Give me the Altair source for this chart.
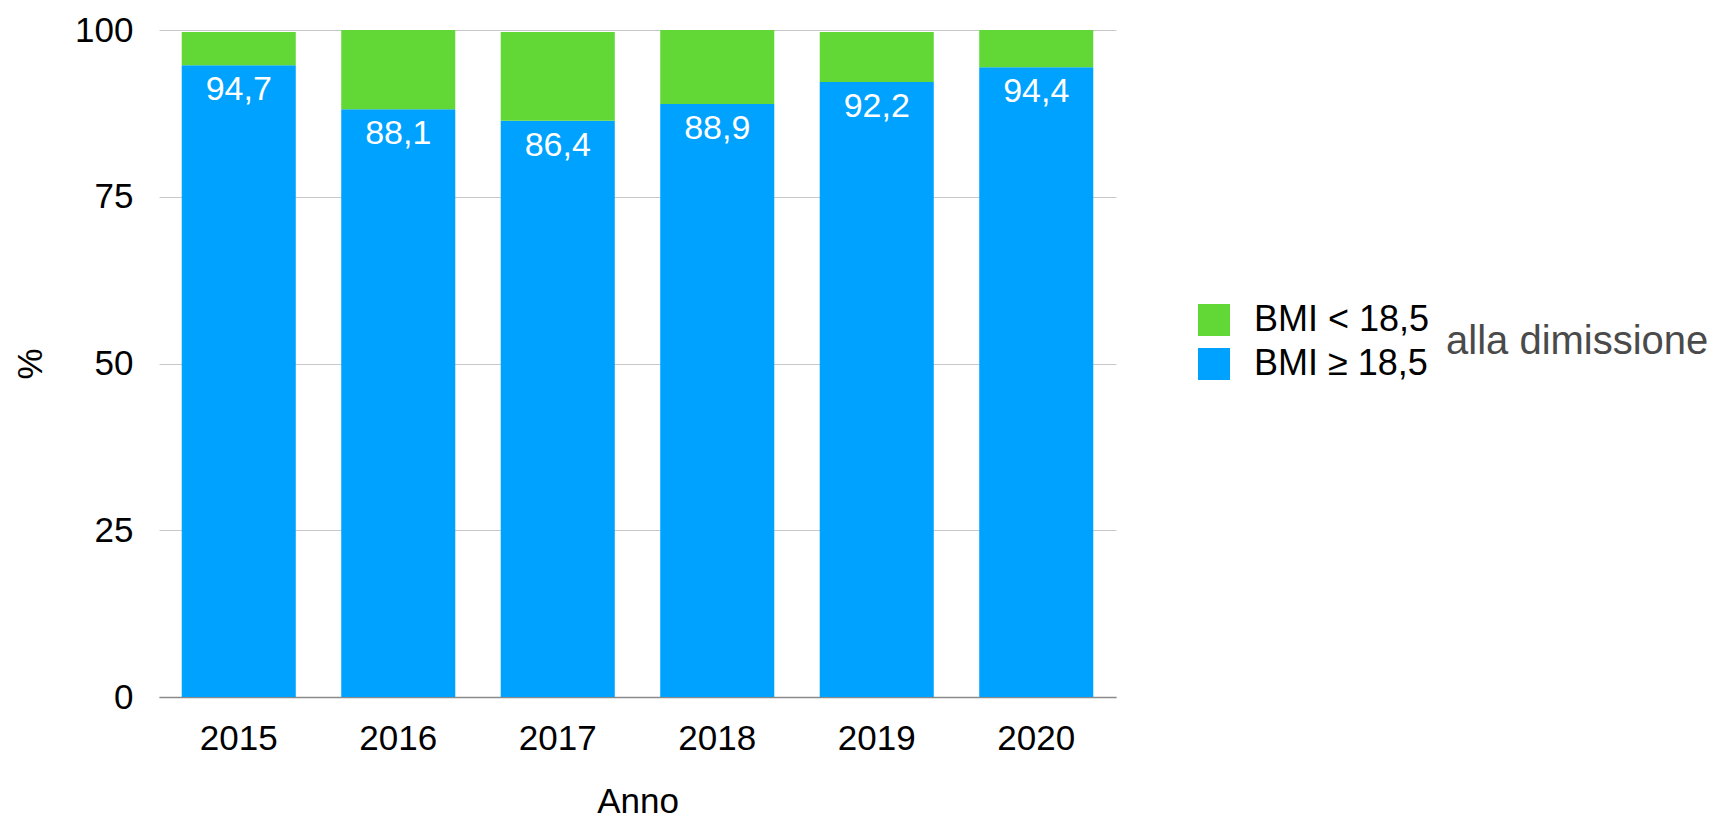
import altair as alt
import pandas as pd

anni = ["2015", "2016", "2017", "2018", "2019", "2020"]
bmi_ge = [94.7, 88.1, 86.4, 88.9, 92.2, 94.4]
bmi_lt = [5.0, 11.9, 13.3, 11.1, 7.5, 5.6]
categorie = ["BMI < 18,5", "BMI ≥ 18,5"]
colori = ["#61D836", "#00A2FF"]
y_ticks = [0, 25, 50, 75, 100]

rows = []
for a, g, l in zip(anni, bmi_ge, bmi_lt):
    rows.append({"Anno": a, "Categoria": categorie[1], "Valore": g, "ord": 0})
    rows.append({"Anno": a, "Categoria": categorie[0], "Valore": l, "ord": 1})
df = pd.DataFrame(rows)

FONT = "Liberation Sans"

base = alt.Chart(df)

x_enc = alt.X(
    "Anno:N",
    sort=anni,
    scale=alt.Scale(paddingInner=0.285, paddingOuter=0.1425),
    axis=alt.Axis(
        title="Anno", labelAngle=0, ticks=False, domain=True,
        domainColor="#8a8a8a", domainWidth=1.5,
        labelFontSize=35, labelPadding=24, labelColor="black",
        titleFontSize=35, titleFontWeight="normal", titleColor="black",
        titlePadding=28, labelFont=FONT, titleFont=FONT,
    ),
)

bars = base.mark_bar().encode(
    x=x_enc,
    y=alt.Y(
        "Valore:Q",
        stack="zero",
        scale=alt.Scale(domain=[0, 100], nice=False),
        axis=alt.Axis(
            title="%", values=y_ticks, ticks=False, domain=False,
            gridColor="#c8c8c8", gridWidth=1,
            labelFontSize=35, labelPadding=26, labelColor="black",
            titleFontSize=35, titleFontWeight="normal", titleColor="black",
            titlePadding=26, labelFont=FONT, titleFont=FONT,
        ),
    ),
    color=alt.Color(
        "Categoria:N",
        scale=alt.Scale(domain=categorie, range=colori),
        legend=alt.Legend(
            title="alla dimissione", orient="none", legendX=1037, legendY=272,
            titleOrient="right", titleColor="#4a4a4a", titleFontSize=40,
            titleFontWeight="normal", titlePadding=17, titleFont=FONT,
            titleLimit=600, labelLimit=400,
            symbolType="square", symbolSize=1024, symbolStrokeWidth=0,
            symbolOpacity=1,
            labelFontSize=36, labelFont=FONT, labelOffset=22, labelColor="black",
            rowPadding=8,
        ),
    ),
    order=alt.Order("ord:Q", sort="ascending"),
)

labels = base.transform_filter(
    alt.datum.ord == 0
).transform_calculate(
    etichetta="replace(format(datum.Valore, '.1f'), '.', ',')"
).mark_text(
    baseline="top", dy=8, color="white", fontSize=34, font=FONT
).encode(
    x=alt.X("Anno:N", sort=anni),
    y=alt.Y("Valore:Q"),
    text="etichetta:N",
)

chart = alt.layer(bars, labels).properties(
    width=957,
    height=667,
    autosize=alt.AutoSizeParams(type="none"),
    padding={"left": 151, "top": 22, "right": 600, "bottom": 122},
).configure_view(stroke=None)

chart.save("out.html", embed_options={"renderer": "svg", "actions": False})
